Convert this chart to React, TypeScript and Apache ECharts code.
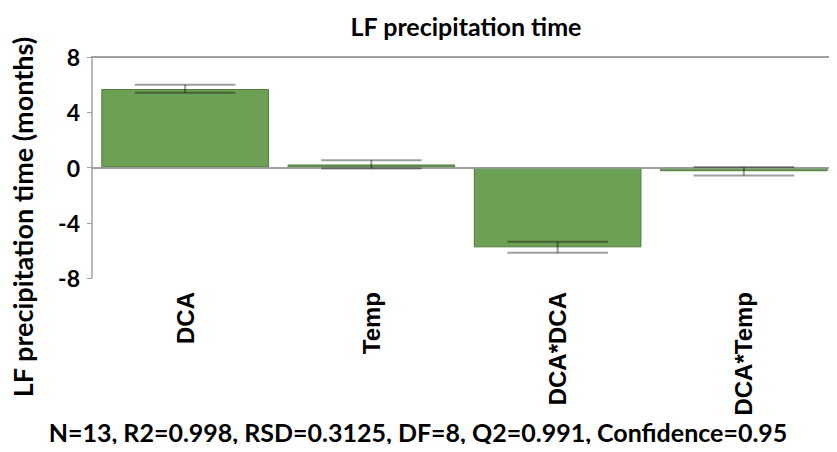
import React, { useEffect, useRef } from "react";
import * as echarts from "echarts";

const categories = ["DCA", "Temp", "DCA*DCA", "DCA*Temp"];
const effects = [5.68, 0.22, -5.78, -0.27];
const errLow = [5.42, -0.08, -6.18, -0.58];
const errHigh = [6.0, 0.53, -5.38, 0.03];
const yTicks = { min: -8, max: 8, interval: 4 };
const title = "LF precipitation time";
const yName = "LF precipitation time (months)";
const footer = "N=13, R2=0.998, RSD=0.3125, DF=8, Q2=0.991, Confidence=0.95";

export default function App() {
  const ref = useRef<HTMLDivElement>(null);
  useEffect(() => {
    const chart = echarts.init(ref.current!, null, { renderer: "svg" });
    const errData = categories.map((_, i) => [i, errLow[i], errHigh[i]]);
    chart.setOption({
      animation: false,
      backgroundColor: "#ffffff",
      graphic: [
        {
          type: "text",
          x: 466,
          y: 26,
          style: {
            text: title,
            fontFamily: "Lato",
            fontWeight: "bold",
            fontSize: 25,
            fill: "#000",
            align: "center",
            verticalAlign: "middle",
          },
        },
        {
          type: "text",
          x: 418,
          y: 432,
          style: {
            text: footer,
            fontFamily: "Lato",
            fontWeight: "bold",
            fontSize: 25,
            fill: "#000",
            align: "center",
            verticalAlign: "middle",
          },
        },
        {
          type: "text",
          x: 22,
          y: 217,
          rotation: Math.PI / 2,
          style: {
            text: yName,
            fontFamily: "Lato",
            fontWeight: "bold",
            fontSize: 27,
            fill: "#000",
            align: "center",
            verticalAlign: "middle",
          },
        },
      ],
      grid: { left: 92, top: 57, width: 747, height: 221 },
      xAxis: [
        {
          type: "category",
          data: categories,
          position: "bottom",
          axisLine: { lineStyle: { color: "#a0a0a0", width: 2 } },
          axisTick: { alignWithLabel: true, length: 7, lineStyle: { color: "#a0a0a0" } },
          axisLabel: {
            rotate: 90,
            margin: 14,
            fontFamily: "Liberation Sans",
            fontWeight: "bold",
            fontSize: 24,
            color: "#000",
          },
        },
        {
          type: "category",
          data: categories,
          position: "top",
          axisLine: { lineStyle: { color: "#a0a0a0", width: 2 } },
          axisTick: { show: false },
          axisLabel: { show: false },
        },
      ],
      yAxis: {
        type: "value",
        min: yTicks.min,
        max: yTicks.max,
        interval: yTicks.interval,
        axisLine: { show: true, lineStyle: { color: "#a0a0a0", width: 1.5 } },
        axisTick: { show: true, length: 5, lineStyle: { color: "#a0a0a0" } },
        splitLine: { show: false },
        axisLabel: {
          margin: 12,
          fontFamily: "Lato",
          fontWeight: "bold",
          fontSize: 23,
          color: "#000",
        },
      },
      series: [
        {
          type: "bar",
          data: effects,
          barCategoryGap: "10%",
          itemStyle: { color: "#6ca155", borderColor: "#4f7a3c", borderWidth: 1 },
          markLine: {
            silent: true,
            symbol: "none",
            label: { show: false },
            lineStyle: { color: "#a0a0a0", type: "solid", width: 1.5 },
            data: [{ yAxis: 0 }],
          },
        },
        {
          type: "custom",
          data: errData,
          z: 5,
          renderItem: (params: any, api: any) => {
            const idx = api.value(0);
            const lo = api.coord([idx, api.value(1)]);
            const hi = api.coord([idx, api.value(2)]);
            const half = api.size([1, 0])[0] * 0.27;
            const style = { stroke: "rgba(0,0,0,0.38)", lineWidth: 2 };
            return {
              type: "group",
              children: [
                { type: "line", shape: { x1: lo[0], y1: lo[1], x2: hi[0], y2: hi[1] }, style },
                { type: "line", shape: { x1: lo[0] - half, y1: lo[1], x2: lo[0] + half, y2: lo[1] }, style },
                { type: "line", shape: { x1: hi[0] - half, y1: hi[1], x2: hi[0] + half, y2: hi[1] }, style },
              ],
            };
          },
        },
      ],
    });
    return () => chart.dispose();
  }, []);
  return <div ref={ref} style={{ width: 837, height: 452, margin: -8 }} />;
}
